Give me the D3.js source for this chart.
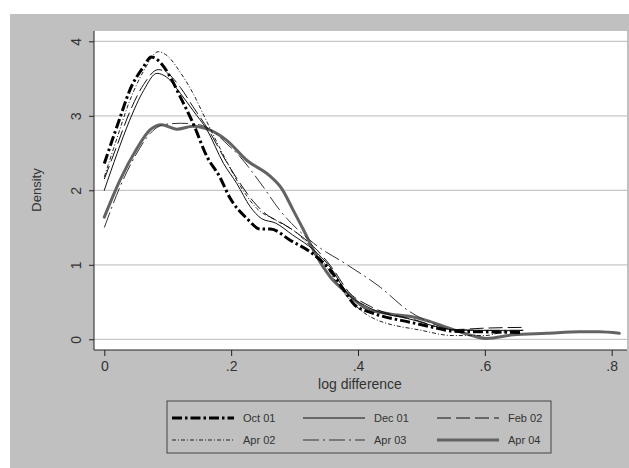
<!DOCTYPE html>
<html>
<head>
<meta charset="utf-8">
<script src="https://cdn.jsdelivr.net/npm/d3@7"></script>
<style>
  body { margin: 0; background: #fff; }
  text { font-family: "Liberation Sans", Arial, sans-serif; fill: #333; }
</style>
</head>
<body>
<svg id="chart"></svg>
<script>
// Kernel density estimates as [log difference, density]
var oct01 = [[0, 2.36], [0.025, 2.98], [0.04, 3.34], [0.062, 3.66], [0.074, 3.79], [0.088, 3.72],
    [0.104, 3.52], [0.12, 3.25], [0.14, 2.9], [0.162, 2.45], [0.182, 2.18], [0.198, 1.9],
    [0.225, 1.62], [0.246, 1.48], [0.262, 1.48], [0.293, 1.33], [0.33, 1.14], [0.357, 0.92],
    [0.378, 0.66], [0.395, 0.46], [0.424, 0.35], [0.487, 0.22], [0.513, 0.17], [0.55, 0.11],
    [0.6, 0.1], [0.66, 0.09]];
var dec01 = [[0, 2.0], [0.02, 2.49], [0.04, 2.94], [0.062, 3.34], [0.083, 3.57], [0.098, 3.52],
    [0.12, 3.3], [0.14, 3.07], [0.162, 2.81], [0.188, 2.36], [0.209, 2.09], [0.23, 1.78],
    [0.248, 1.62], [0.27, 1.56], [0.297, 1.4], [0.33, 1.2], [0.356, 0.97], [0.383, 0.62],
    [0.414, 0.44], [0.487, 0.26], [0.55, 0.13], [0.6, 0.12], [0.66, 0.12]];
var feb02 = [[0, 2.15], [0.02, 2.6], [0.04, 3.05], [0.062, 3.42], [0.085, 3.62], [0.1, 3.57],
    [0.12, 3.38], [0.14, 3.12], [0.165, 2.8], [0.19, 2.42], [0.212, 2.12], [0.235, 1.85],
    [0.255, 1.68], [0.28, 1.56], [0.305, 1.42], [0.335, 1.2], [0.36, 0.95], [0.385, 0.64],
    [0.42, 0.44], [0.49, 0.26], [0.55, 0.13], [0.6, 0.15], [0.66, 0.16]];
var apr02 = [[0, 2.18], [0.02, 2.7], [0.04, 3.2], [0.062, 3.6], [0.085, 3.86], [0.1, 3.8],
    [0.12, 3.58], [0.14, 3.3], [0.16, 2.95], [0.185, 2.52], [0.21, 2.12], [0.24, 1.76],
    [0.27, 1.6], [0.3, 1.45], [0.34, 1.1], [0.38, 0.6], [0.42, 0.3], [0.5, 0.12],
    [0.55, 0.05], [0.6, 0.05], [0.63, 0.1], [0.66, 0.12]];
var apr03 = [[0, 1.5], [0.025, 2.05], [0.05, 2.48], [0.072, 2.76], [0.093, 2.88], [0.12, 2.9],
    [0.15, 2.88], [0.17, 2.8], [0.19, 2.65], [0.214, 2.45], [0.246, 2.1], [0.277, 1.73],
    [0.33, 1.29], [0.383, 1.0], [0.435, 0.7], [0.48, 0.38], [0.513, 0.23], [0.55, 0.13],
    [0.6, 0.12], [0.66, 0.12]];
var apr04 = [[0, 1.64], [0.025, 2.14], [0.05, 2.54], [0.072, 2.81], [0.09, 2.88], [0.114, 2.82],
    [0.14, 2.86], [0.166, 2.81], [0.193, 2.67], [0.225, 2.4], [0.26, 2.2], [0.28, 2.02],
    [0.298, 1.73], [0.314, 1.47], [0.335, 1.11], [0.356, 0.84], [0.383, 0.62], [0.414, 0.41],
    [0.45, 0.34], [0.487, 0.3], [0.513, 0.24], [0.54, 0.16], [0.576, 0.06], [0.603, 0.01],
    [0.645, 0.06], [0.697, 0.08], [0.75, 0.1], [0.78, 0.1], [0.812, 0.08]];

var seriesNames = ["Oct 01", "Dec 01", "Feb 02", "Apr 02", "Apr 03", "Apr 04"];
var seriesData = [oct01, dec01, feb02, apr02, apr03, apr04];
var xTicks = [0, 0.2, 0.4, 0.6, 0.8];
var xTickLabels = ["0", ".2", ".4", ".6", ".8"];
var yTicks = [0, 1, 2, 3, 4];

// line styles, same order as the series
var styles = [
    {color: "#000", width: 3, dash: "10,3,2.5,3"},
    {color: "#111", width: 1, dash: null},
    {color: "#111", width: 1, dash: "14,5"},
    {color: "#222", width: 1, dash: "4,2,1,2"},
    {color: "#333", width: 1, dash: "16,4,2,4"},
    {color: "#636363", width: 3, dash: null}
];

var w = 629;
var h = 468;
var svg = d3.select("#chart").attr("width", w).attr("height", h);

// outer gray panel
svg.append("rect")
    .attr("x", 10).attr("y", 14)
    .attr("width", w - 10).attr("height", h - 14)
    .attr("fill", "#c0c0c0");

var plot = {left: 94, top: 31, right: 627, bottom: 350};

svg.append("rect")
    .attr("x", plot.left).attr("y", plot.top)
    .attr("width", plot.right - plot.left).attr("height", plot.bottom - plot.top)
    .attr("fill", "#fff");

var x = d3.scaleLinear().domain([0, 0.8]).range([104.3, 611.7]);
var y = d3.scaleLinear().domain([0, 4]).range([339.3, 41.3]);

// horizontal grid
svg.append("g").selectAll("line")
    .data(yTicks)
    .enter()
    .append("line")
    .attr("x1", plot.left).attr("x2", plot.right)
    .attr("y1", function(d) { return y(d); })
    .attr("y2", function(d) { return y(d); })
    .attr("stroke", "#c8c8c8")
    .attr("stroke-width", 1.2);

// curves
var line = d3.line()
    .x(function(d) { return x(d[0]); })
    .y(function(d) { return y(d[1]); })
    .curve(d3.curveMonotoneX);

// draw the gray ones first so the black lines sit on top
var drawOrder = [5, 4, 3, 2, 1, 0];
drawOrder.forEach(function(i) {
    svg.append("path")
        .datum(seriesData[i])
        .attr("d", line)
        .attr("fill", "none")
        .attr("stroke", styles[i].color)
        .attr("stroke-width", styles[i].width)
        .attr("stroke-dasharray", styles[i].dash)
        .attr("stroke-linejoin", "round")
        .attr("stroke-linecap", styles[i].dash ? "butt" : "round");
});

// Y-axis
var yAxis = svg.append("g")
    .attr("transform", "translate(" + plot.left + ",0)")
    .call(d3.axisLeft(y).tickValues(yTicks).tickSize(5).tickFormat(d3.format("d")));
yAxis.select(".domain").attr("d", "M0," + plot.top + "V" + plot.bottom).attr("stroke", "#222");
yAxis.selectAll(".tick line").attr("stroke", "#222");
yAxis.selectAll(".tick text")
    .attr("x", 0).attr("dy", null)
    .attr("transform", "translate(-13,0)rotate(-90)")
    .attr("text-anchor", "middle")
    .style("font-size", "14px")
    .style("font-family", "Liberation Sans, Arial, sans-serif")
    .attr("fill", "#333");

// X-axis
var xAxis = svg.append("g")
    .attr("transform", "translate(0," + plot.bottom + ")")
    .call(d3.axisBottom(x).tickValues(xTicks).tickSize(6)
        .tickFormat(function(d, i) { return xTickLabels[i]; }));
xAxis.select(".domain").attr("d", "M" + plot.left + ",0H" + plot.right).attr("stroke", "#222");
xAxis.selectAll(".tick line").attr("stroke", "#222");
xAxis.selectAll(".tick text")
    .attr("y", 11)
    .style("font-size", "14px")
    .style("font-family", "Liberation Sans, Arial, sans-serif")
    .attr("fill", "#333");

// axis titles
svg.append("text")
    .attr("text-anchor", "middle")
    .attr("transform", "translate(41,190)rotate(-90)")
    .style("font-size", "13px")
    .text("Density");

svg.append("text")
    .attr("text-anchor", "middle")
    .attr("x", 360).attr("y", 389)
    .style("font-size", "14px")
    .text("log difference");

// legend
var legend = svg.append("g");
legend.append("rect")
    .attr("x", 167).attr("y", 401)
    .attr("width", 384).attr("height", 52)
    .attr("fill", "#c0c0c0")
    .attr("stroke", "#444")
    .attr("stroke-width", 1);

var colX = [172, 303, 437];
var rowY = [418, 440];
seriesNames.forEach(function(name, i) {
    var cx = colX[i % 3];
    var cy = rowY[Math.floor(i / 3)];
    legend.append("line")
        .attr("x1", cx).attr("x2", cx + 62)
        .attr("y1", cy).attr("y2", cy)
        .attr("stroke", styles[i].color)
        .attr("stroke-width", styles[i].width)
        .attr("stroke-dasharray", styles[i].dash);
    legend.append("text")
        .attr("x", cx + 71).attr("y", cy + 4)
        .style("font-size", "11px")
        .text(name);
});
</script>
</body>
</html>
